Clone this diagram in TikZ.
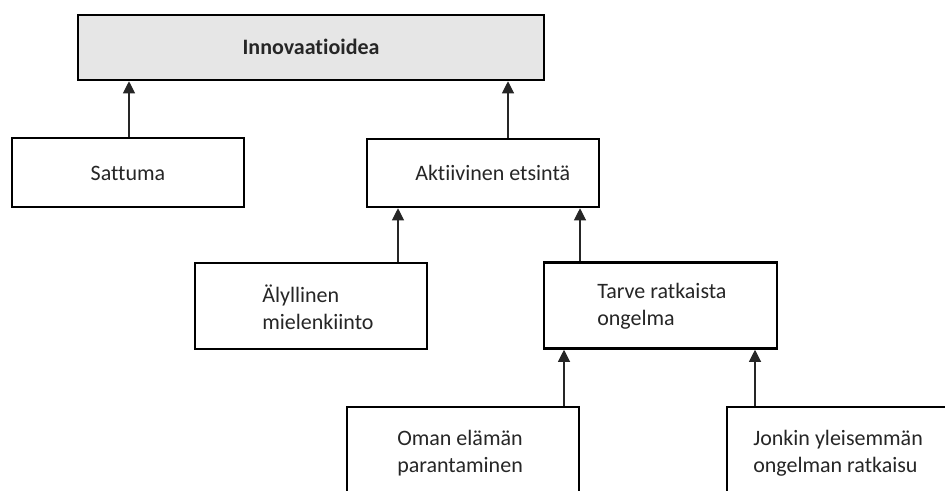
\documentclass[tikz,border=0pt]{standalone}
\usepackage{fontspec}
\setmainfont{Carlito}[Ligatures={NoCommon}]
\usetikzlibrary{arrows.meta}
\definecolor{innovgray}{RGB}{230,230,230}
\definecolor{txtgray}{RGB}{38,38,38}
\begin{document}
\begin{tikzpicture}[x=0.75pt,y=-0.75pt,
  box/.style={draw=black, line width=1.9pt, inner sep=0pt, fill=white},
  lbl/.style={inner sep=0pt, font=\fontsize{16.5}{20.25}\selectfont, text=txtgray, align=left, anchor=west},
  arr/.style={line width=0.8pt, draw=black!85, -{Triangle[width=9pt,length=9pt]}}]
\useasboundingbox (0,0) rectangle (945,490);
\clip (0,0) rectangle (945,490);

% boxes
\node (innov)   [box, fill=innovgray, minimum width=349.5pt, minimum height=48.75pt] at (311,47.5) {};
\node (sattuma) [box, minimum width=174pt, minimum height=51.75pt] at (128,172.5) {};
\node (akt)     [box, minimum width=174pt, minimum height=51pt] at (483,173) {};
\node (aly)     [box, minimum width=174pt, minimum height=64.5pt] at (311,306) {};
\node (tarve)   [box, minimum width=174.75pt, minimum height=64.5pt] at (660.5,305.5) {};
\node (oman)    [box, minimum width=174pt, minimum height=92.25pt] at (463,468.5) {};
\node (jonkin)  [box, minimum width=174pt, minimum height=92.25pt] at (843,468.5) {};

% labels
\node (tinnov) [inner sep=0pt, font=\fontsize{16.5}{20.25}\selectfont\bfseries, text=txtgray] at (311,47) {Innovaatioidea};
\node (tsattuma) [inner sep=0pt, font=\fontsize{16.5}{20.25}\selectfont, text=txtgray] at (128,173) {Sattuma};
\node (takt) [lbl] at (415,173) {Aktiivinen etsintä};
\node (taly) [lbl] at (262,307.5) {Älyllinen\\mielenkiinto};
\node (ttarve) [lbl] at (597,306.5) {Tarve ratkaista\\ongelma};
\node (toman) [lbl] at (397,453.5) {Oman elämän\\parantaminen};
\node (tjonkin) [lbl] at (753,453.5) {Jonkin yleisemmän\\ongelman ratkaisu};

% connector columns
\coordinate (c1) at (129,0);
\coordinate (c2) at (508,0);
\coordinate (c3) at (398,0);
\coordinate (c4) at (580,0);
\coordinate (c5) at (564,0);
\coordinate (c6) at (755,0);

% connectors
\draw[arr] (sattuma.north -| c1) -- (innov.south -| c1);
\draw[arr] (akt.north -| c2) -- (innov.south -| c2);
\draw[arr] (aly.north -| c3) -- (akt.south -| c3);
\draw[arr] (tarve.north -| c4) -- (akt.south -| c4);
\draw[arr] (oman.north -| c5) -- (tarve.south -| c5);
\draw[arr] (jonkin.north -| c6) -- (tarve.south -| c6);
\end{tikzpicture}
\end{document}
